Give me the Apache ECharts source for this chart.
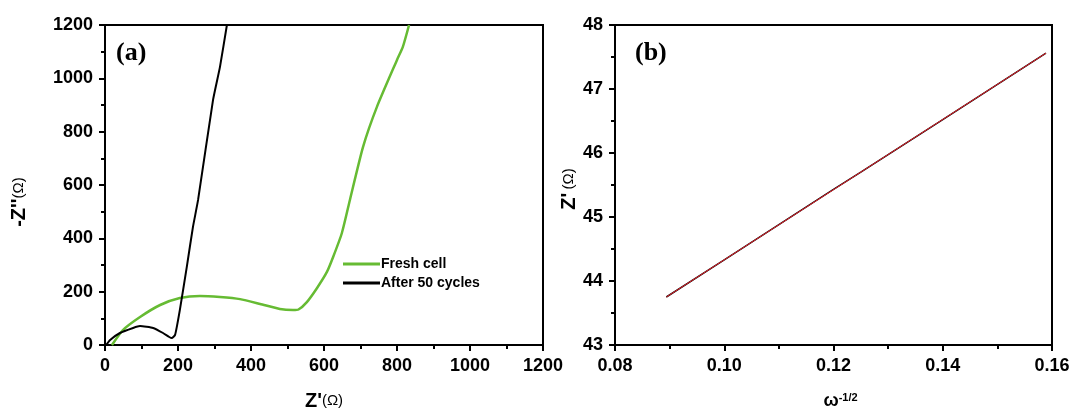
<!DOCTYPE html>
<html>
<head>
<meta charset="utf-8">
<script src="https://cdn.jsdelivr.net/npm/echarts@6/dist/echarts.min.js"></script>
<style>
  html, body { margin: 0; padding: 0; background: #fff; }
  #main { width: 1072px; height: 411px; }
</style>
</head>
<body>
<div id="main"></div>
<script>
// panel (a): Nyquist plot
var freshX = [19, 49, 96, 151, 205, 260, 315, 370, 425, 479, 515, 530, 553, 581, 608, 625, 649, 671, 707, 745, 800, 816, 833];
var freshY = [0, 56, 105, 150, 176, 184, 180, 172, 154, 135, 131, 133, 161, 214, 274, 330, 420, 544, 743, 893, 1069, 1118, 1200];
var cycledX = [3, 14, 41, 77, 96, 132, 159, 176, 183, 192, 205, 224, 241, 255, 296, 315, 334];
var cycledY = [0, 19, 45, 64, 71, 64, 45, 30, 26, 38, 131, 292, 443, 544, 919, 1043, 1200];

// panel (b): Z' vs omega^-1/2
var omegaX = [0.0894, 0.10, 0.11, 0.12, 0.125, 0.14, 0.1589];
var zReal = [43.75, 44.33, 44.88, 45.43, 45.70, 46.52, 47.56];
var fitX = [0.0894, 0.1589];
var fitY = [43.75, 47.56];

var chart = echarts.init(document.getElementById('main'));

var tickFont = { color: '#000', fontFamily: 'Liberation Sans, Arial', fontWeight: 'bold', fontSize: 18 };

function pairs(xs, ys) {
  return xs.map(function (x, i) { return [x, ys[i]]; });
}

function baseAxis(extra) {
  return Object.assign({
    type: 'value',
    axisLine: { show: true, onZero: false, lineStyle: { color: '#000', width: 2 } },
    axisTick: { show: true, inside: false, length: 6, lineStyle: { color: '#000', width: 2 } },
    minorTick: { show: true, splitNumber: 2, length: 4, lineStyle: { color: '#000', width: 2 } },
    splitLine: { show: false },
    axisLabel: Object.assign({ margin: 12, formatter: function (v) { return String(v); } }, tickFont)
  }, extra);
}

var nameRich = {
  b: { fontFamily: 'Liberation Sans, Arial', fontWeight: 'bold', fontSize: 20, color: '#000' },
  s: { fontFamily: 'Liberation Sans, Arial', fontSize: 15, color: '#000' }
};

var option = {
  animation: false,
  grid: [
    { left: 105, top: 25, width: 438, height: 320, show: true, borderColor: '#000', borderWidth: 2, outerBoundsMode: 'none', containLabel: false },
    { left: 615, top: 25, width: 437, height: 320, show: true, borderColor: '#000', borderWidth: 2, outerBoundsMode: 'none', containLabel: false }
  ],
  legend: {
    orient: 'vertical',
    left: 338,
    top: 252,
    itemWidth: 37,
    itemHeight: 3,
    itemGap: 5,
    icon: 'rect',
    textStyle: { color: '#000', fontFamily: 'Liberation Sans, Arial', fontWeight: 'bold', fontSize: 14, padding: [0, 0, 0, -4] },
    data: ['Fresh cell', 'After 50 cycles']
  },
  xAxis: [
    baseAxis({
      gridIndex: 0, min: 0, max: 1200, interval: 200,
      name: "{b|Z'}{s|(Ω)}", nameLocation: 'middle', nameGap: 46,
      nameTextStyle: { rich: nameRich }
    }),
    baseAxis({
      gridIndex: 1, min: 0.08, max: 0.16, interval: 0.02,
      axisLabel: Object.assign({ margin: 12, formatter: function (v) { return v.toFixed(2); } }, tickFont),
      name: '{w|ω}{s|-1/2}', nameLocation: 'middle', nameGap: 47,
      nameTextStyle: {
        padding: [0, 0, 0, 14],
        rich: {
          w: { fontFamily: 'Liberation Sans, Arial', fontWeight: 'bold', fontSize: 18, color: '#000', verticalAlign: 'bottom' },
          s: { fontFamily: 'Liberation Sans, Arial', fontWeight: 'bold', fontSize: 11, color: '#000', verticalAlign: 'top' }
        }
      }
    })
  ],
  yAxis: [
    baseAxis({
      gridIndex: 0, min: 0, max: 1200, interval: 200,
      name: "{b|-Z''}{s|(Ω)}", nameLocation: 'middle', nameGap: 76, nameRotate: 90,
      nameTextStyle: { padding: [0, 34, 0, 0], rich: nameRich }
    }),
    baseAxis({
      gridIndex: 1, min: 43, max: 48, interval: 1,
      name: "{b|Z'} {s|(Ω)}", nameLocation: 'middle', nameGap: 34, nameRotate: 90,
      nameTextStyle: { padding: [0, 8, 0, 0], rich: nameRich }
    })
  ],
  graphic: [
    { type: 'text', left: 116, top: 40, style: { text: '(a)', font: 'bold 26px "Liberation Serif", "Times New Roman", serif', fill: '#000' } },
    { type: 'text', left: 635, top: 40, style: { text: '(b)', font: 'bold 26px "Liberation Serif", "Times New Roman", serif', fill: '#000' } }
  ],
  series: [
    {
      name: 'Fresh cell', type: 'line', xAxisIndex: 0, yAxisIndex: 0,
      showSymbol: false, smooth: 0.2, color: '#66bb33',
      lineStyle: { color: '#66bb33', width: 2.5 },
      data: pairs(freshX, freshY)
    },
    {
      name: 'After 50 cycles', type: 'line', xAxisIndex: 0, yAxisIndex: 0,
      showSymbol: false, smooth: 0.15, color: '#000',
      lineStyle: { color: '#000', width: 2 },
      data: pairs(cycledX, cycledY)
    },
    {
      name: 'data', type: 'line', xAxisIndex: 1, yAxisIndex: 1,
      showSymbol: false, color: '#000',
      lineStyle: { color: '#000', width: 1.5 },
      data: pairs(omegaX, zReal)
    },
    {
      name: 'fit', type: 'line', xAxisIndex: 1, yAxisIndex: 1,
      showSymbol: false, color: '#e8202a',
      lineStyle: { color: '#e8202a', width: 1 },
      data: pairs(fitX, fitY)
    }
  ]
};

chart.setOption(option);
</script>
</body>
</html>
